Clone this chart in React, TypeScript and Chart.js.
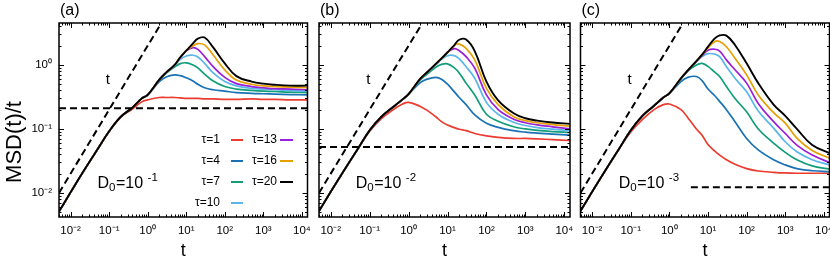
import React, { useEffect, useRef } from 'react';
import { Chart, registerables } from 'chart.js';

Chart.register(...registerables);

const FONT = '"Liberation Sans", Arial, Helvetica, sans-serif';

// time grid shared by all curves
const T = [0.005, 0.01, 0.02, 0.05, 0.1, 0.2, 0.4, 0.7, 1, 2, 3, 5, 7, 10, 15, 20, 30, 50, 100, 200, 500, 1000, 2000, 5000, 14000];

const TAU_LABELS = ['τ=1', 'τ=4', 'τ=7', 'τ=10', 'τ=13', 'τ=16', 'τ=20'];
const TAU_COLORS = ['#ec3b2f', '#1a72b5', '#119d78', '#5ab6e9', '#9a1fd6', '#e69f00', '#000000'];

// panel (a) D0 = 1e-1
const A_T1 = [0.0051, 0.0102, 0.0202, 0.048, 0.091, 0.152, 0.205, 0.265, 0.285, 0.31, 0.31, 0.31, 0.305, 0.3, 0.3, 0.3, 0.295, 0.295, 0.29, 0.29, 0.295, 0.29, 0.29, 0.285, 0.285];
const A_T4 = [0.0051, 0.0102, 0.0202, 0.048, 0.092, 0.155, 0.215, 0.3, 0.34, 0.55, 0.65, 0.7, 0.68, 0.63, 0.56, 0.5, 0.44, 0.41, 0.39, 0.37, 0.36, 0.355, 0.35, 0.345, 0.34];
const A_T7 = [0.0051, 0.0102, 0.0202, 0.048, 0.092, 0.155, 0.215, 0.3, 0.34, 0.58, 0.74, 0.93, 1.05, 1.08, 1.0, 0.9, 0.72, 0.56, 0.46, 0.42, 0.4, 0.39, 0.385, 0.375, 0.37];
const A_T10 = [0.0051, 0.0102, 0.0202, 0.048, 0.092, 0.155, 0.215, 0.3, 0.34, 0.59, 0.76, 0.98, 1.22, 1.38, 1.42, 1.33, 1.06, 0.75, 0.55, 0.47, 0.43, 0.42, 0.41, 0.4, 0.39];
const A_T13 = [0.0051, 0.0102, 0.0202, 0.048, 0.092, 0.155, 0.215, 0.3, 0.34, 0.59, 0.76, 1.0, 1.3, 1.66, 1.86, 1.75, 1.35, 0.94, 0.64, 0.51, 0.46, 0.44, 0.425, 0.42, 0.41];
const A_T16 = [0.0051, 0.0102, 0.0202, 0.048, 0.092, 0.155, 0.215, 0.3, 0.34, 0.59, 0.76, 1.0, 1.32, 1.67, 2.0, 2.16, 2.06, 1.43, 0.84, 0.58, 0.5, 0.47, 0.46, 0.45, 0.44];
const A_T20 = [0.0051, 0.0102, 0.0202, 0.048, 0.092, 0.155, 0.215, 0.3, 0.34, 0.59, 0.76, 1.0, 1.32, 1.67, 2.18, 2.58, 2.69, 1.88, 1.06, 0.67, 0.55, 0.51, 0.49, 0.475, 0.475];

// panel (b) D0 = 1e-2
const B_T1 = [0.0052, 0.0104, 0.0205, 0.049, 0.092, 0.145, 0.2, 0.245, 0.26, 0.225, 0.195, 0.155, 0.13, 0.115, 0.105, 0.099, 0.094, 0.085, 0.078, 0.074, 0.071, 0.071, 0.07, 0.068, 0.066];
const B_T4 = [0.0052, 0.0104, 0.0205, 0.049, 0.095, 0.155, 0.22, 0.29, 0.35, 0.53, 0.6, 0.64, 0.6, 0.5, 0.38, 0.31, 0.24, 0.166, 0.123, 0.106, 0.094, 0.089, 0.086, 0.083, 0.08];
const B_T7 = [0.0052, 0.0104, 0.0205, 0.049, 0.095, 0.155, 0.22, 0.29, 0.35, 0.58, 0.72, 0.92, 1.02, 1.04, 0.9, 0.75, 0.52, 0.34, 0.17, 0.132, 0.108, 0.1, 0.095, 0.091, 0.088];
const B_T10 = [0.0052, 0.0104, 0.0205, 0.049, 0.095, 0.155, 0.22, 0.29, 0.35, 0.6, 0.76, 1.0, 1.22, 1.4, 1.4, 1.25, 0.94, 0.62, 0.26, 0.17, 0.127, 0.113, 0.105, 0.099, 0.094];
const B_T13 = [0.0052, 0.0104, 0.0205, 0.049, 0.095, 0.155, 0.22, 0.29, 0.35, 0.61, 0.77, 1.03, 1.26, 1.58, 1.8, 1.67, 1.35, 0.89, 0.34, 0.2, 0.142, 0.125, 0.116, 0.108, 0.1];
const B_T16 = [0.0052, 0.0104, 0.0205, 0.049, 0.095, 0.155, 0.22, 0.29, 0.35, 0.61, 0.77, 1.04, 1.27, 1.55, 2.02, 2.12, 1.82, 1.2, 0.43, 0.24, 0.155, 0.135, 0.125, 0.117, 0.11];
const B_T20 = [0.0052, 0.0104, 0.0205, 0.049, 0.095, 0.155, 0.22, 0.29, 0.35, 0.61, 0.77, 1.04, 1.27, 1.57, 2.05, 2.48, 2.5, 1.65, 0.55, 0.28, 0.176, 0.147, 0.135, 0.126, 0.12];

// panel (c) D0 = 1e-3
const C_T1 = [0.0052, 0.0104, 0.0205, 0.049, 0.09, 0.14, 0.2, 0.24, 0.245, 0.2, 0.15, 0.1, 0.08, 0.057, 0.045, 0.039, 0.033, 0.028, 0.024, 0.022, 0.021, 0.0205, 0.0203, 0.0203, 0.0203];
const C_T4 = [0.0052, 0.0104, 0.0205, 0.049, 0.095, 0.16, 0.23, 0.31, 0.36, 0.55, 0.64, 0.66, 0.57, 0.42, 0.33, 0.27, 0.2, 0.13, 0.071, 0.047, 0.033, 0.0274, 0.024, 0.0222, 0.0215];
const C_T7 = [0.0052, 0.0104, 0.0205, 0.049, 0.095, 0.16, 0.23, 0.31, 0.36, 0.6, 0.8, 1.0, 1.06, 0.95, 0.77, 0.66, 0.46, 0.3, 0.185, 0.1, 0.06, 0.043, 0.033, 0.0264, 0.0235];
const C_T10 = [0.0052, 0.0104, 0.0205, 0.049, 0.095, 0.16, 0.23, 0.31, 0.36, 0.62, 0.82, 1.12, 1.35, 1.5, 1.48, 1.35, 0.94, 0.62, 0.38, 0.19, 0.103, 0.063, 0.044, 0.033, 0.0274];
const C_T13 = [0.0052, 0.0104, 0.0205, 0.049, 0.095, 0.16, 0.23, 0.31, 0.36, 0.62, 0.82, 1.14, 1.4, 1.7, 1.76, 1.65, 1.2, 0.84, 0.52, 0.25, 0.13, 0.085, 0.056, 0.039, 0.03];
const C_T16 = [0.0052, 0.0104, 0.0205, 0.049, 0.095, 0.16, 0.23, 0.31, 0.36, 0.62, 0.82, 1.15, 1.43, 1.85, 2.33, 2.33, 1.93, 1.27, 0.7, 0.34, 0.18, 0.123, 0.072, 0.046, 0.035];
const C_T20 = [0.0052, 0.0104, 0.0205, 0.049, 0.095, 0.16, 0.23, 0.31, 0.36, 0.62, 0.82, 1.15, 1.45, 1.93, 2.6, 2.9, 2.88, 2.05, 1.06, 0.52, 0.24, 0.16, 0.1, 0.056, 0.042];

// reference lines
const SLOPE_T = [0.005, 2];
const SLOPE_Y = [0.01, 4];
const A_FLAT_T = [0.005, 14000];
const A_FLAT_Y = [0.21, 0.21];
const B_FLAT_T = [0.005, 14000];
const B_FLAT_Y = [0.052, 0.052];
const C_FLAT_T = [3.6, 14000];
const C_FLAT_Y = [0.0123, 0.0123];

// ticks
const X_TICKS = [0.01, 0.1, 1, 10, 100, 1000, 10000];
const X_TICK_LABELS = ['10⁻²', '10⁻¹', '10⁰', '10¹', '10²', '10³', '10⁴'];
const Y_TICKS = [0.01, 0.1, 1];
const Y_TICK_LABELS = ['10⁻²', '10⁻¹', '10⁰'];

const PANELS = [
  { key: 'a', tag: '(a)', exp: '-1', left: 59, right: 307.5, yW: 59, yLabels: true, legend: true,
    curves: [A_T1, A_T4, A_T7, A_T10, A_T13, A_T16, A_T20], flatT: A_FLAT_T, flatY: A_FLAT_Y, d0: [0.05, 0.0118] },
  { key: 'b', tag: '(b)', exp: '-2', left: 319, right: 570, yW: 10, yLabels: false, legend: false,
    curves: [B_T1, B_T4, B_T7, B_T10, B_T13, B_T16, B_T20], flatT: B_FLAT_T, flatY: B_FLAT_Y, d0: [0.044, 0.0118] },
  { key: 'c', tag: '(c)', exp: '-3', left: 580.5, right: 829.5, yW: 10, yLabels: false, legend: false,
    curves: [C_T1, C_T4, C_T7, C_T10, C_T13, C_T16, C_T20], flatT: C_FLAT_T, flatY: C_FLAT_Y, d0: [0.049, 0.0118] },
];

const pts = (xs: number[], ys: number[]) => xs.map((x, i) => ({ x, y: ys[i] }));

function decorPlugin(p: any) {
  return {
    id: 'decor' + p.key,
    afterDatasetsDraw(chart: any) {
      const { ctx, chartArea: ca, scales } = chart;
      const xs = scales.x;
      const ys = scales.y;
      ctx.save();
      ctx.strokeStyle = '#000';
      ctx.fillStyle = '#000';
      // inner ticks
      ctx.lineWidth = 1;
      ctx.beginPath();
      for (let e = -3; e <= 4; e++) {
        for (let m = 1; m <= 9; m++) {
          const v = m * Math.pow(10, e);
          const len = m === 1 ? 5 : 2.5;
          if (v >= xs.min && v <= xs.max) {
            const px = Math.round(xs.getPixelForValue(v)) + 0.5;
            ctx.moveTo(px, ca.bottom); ctx.lineTo(px, ca.bottom - len);
            ctx.moveTo(px, ca.top); ctx.lineTo(px, ca.top + len);
          }
          if (v >= ys.min && v <= ys.max) {
            const py = Math.round(ys.getPixelForValue(v)) + 0.5;
            ctx.moveTo(ca.left, py); ctx.lineTo(ca.left + len, py);
            ctx.moveTo(ca.right, py); ctx.lineTo(ca.right - len, py);
          }
        }
      }
      ctx.stroke();
      // frame
      ctx.lineWidth = 1.5;
      ctx.strokeRect(ca.left, ca.top, ca.right - ca.left, ca.bottom - ca.top);

      // panel tag
      ctx.font = '16px ' + FONT;
      ctx.textAlign = 'left';
      ctx.textBaseline = 'top';
      ctx.fillText(p.tag, ca.left + 1, 3);

      // "t" annotation next to the slope line
      ctx.font = '15px ' + FONT;
      ctx.textAlign = 'center';
      ctx.textBaseline = 'middle';
      ctx.fillText('t', xs.getPixelForValue(0.093), ys.getPixelForValue(0.58));

      // D0 annotation
      ctx.textAlign = 'left';
      ctx.textBaseline = 'alphabetic';
      let cx = xs.getPixelForValue(p.d0[0]);
      const by = ys.getPixelForValue(p.d0[1]);
      ctx.font = '16px ' + FONT;
      ctx.fillText('D', cx, by); cx += ctx.measureText('D').width;
      ctx.font = '11.5px ' + FONT;
      ctx.fillText('0', cx, by + 3); cx += ctx.measureText('0').width + 0.5;
      ctx.font = '16px ' + FONT;
      ctx.fillText('=10', cx, by); cx += ctx.measureText('=10 ').width;
      ctx.font = '11.5px ' + FONT;
      ctx.fillText(p.exp, cx, by - 7.5);

      if (p.legend) {
        const sets = chart.data.datasets
          .filter((d: any) => TAU_LABELS.indexOf(d.label) >= 0)
          .sort((a: any, b: any) => TAU_LABELS.indexOf(a.label) - TAU_LABELS.indexOf(b.label));
        const rowsY = [140, 161, 182, 203];
        const textR = [220, 277];
        const lineX = [[231, 243], [280, 293]];
        ctx.font = '12px ' + FONT;
        ctx.textAlign = 'right';
        ctx.textBaseline = 'middle';
        sets.forEach((d: any, i: number) => {
          const col = i < 4 ? 0 : 1;
          const row = i < 4 ? i : i - 4;
          const y = rowsY[row];
          ctx.fillStyle = '#000';
          ctx.fillText(d.label, textR[col], y);
          ctx.strokeStyle = d.borderColor;
          ctx.lineWidth = 2;
          ctx.beginPath();
          ctx.moveTo(lineX[col][0], y);
          ctx.lineTo(lineX[col][1], y);
          ctx.stroke();
        });
        // y axis title
        ctx.save();
        ctx.fillStyle = '#000';
        ctx.translate(15, 142);
        ctx.rotate(-Math.PI / 2);
        ctx.font = '22px ' + FONT;
        ctx.textAlign = 'center';
        ctx.textBaseline = 'middle';
        ctx.fillText('MSD(t)/t', 0, 0);
        ctx.restore();
      }
      ctx.restore();
    },
  };
}

function makeConfig(p: any): any {
  const datasets: any[] = [
    { label: 'slope', data: pts(SLOPE_T, SLOPE_Y), borderColor: '#000', borderDash: [7, 4], borderWidth: 2, tension: 0 },
    { label: 'plateau', data: pts(p.flatT, p.flatY), borderColor: '#000', borderDash: [7, 4], borderWidth: 2, tension: 0 },
  ];
  for (let i = TAU_LABELS.length - 1; i >= 0; i--) {
    datasets.push({
      label: TAU_LABELS[i],
      data: pts(T, p.curves[i]),
      borderColor: TAU_COLORS[i],
      borderWidth: i === 6 ? 1.9 : 1.7,
      tension: 0.4,
    });
  }
  return {
    type: 'line',
    data: { datasets },
    options: {
      responsive: false,
      animation: false,
      devicePixelRatio: 1,
      events: [],
      layout: { padding: { left: p.left - p.yW, right: 830 - p.right, top: 23, bottom: 0 } },
      elements: { point: { radius: 0 }, line: { fill: false } },
      plugins: { legend: { display: false }, tooltip: { enabled: false }, title: { display: false } },
      scales: {
        x: {
          type: 'logarithmic',
          min: 0.005,
          max: 14000,
          afterBuildTicks: (s: any) => { s.ticks = X_TICKS.map((v) => ({ value: v })); },
          afterFit: (s: any) => { s.height = 48; s.paddingLeft = 0; s.paddingRight = 0; },
          ticks: {
            autoSkip: false, maxRotation: 0, minRotation: 0, padding: 7, color: '#000',
            font: { size: 11.5, family: FONT },
            callback: (_v: any, i: number) => X_TICK_LABELS[i],
          },
          grid: { display: false, drawTicks: false },
          border: { display: false },
          title: { display: true, text: 't', color: '#000', font: { size: 18, family: FONT }, padding: { top: 0, bottom: 3 } },
        },
        y: {
          type: 'logarithmic',
          min: 0.0042,
          max: 4.53,
          afterBuildTicks: (s: any) => { s.ticks = Y_TICKS.map((v) => ({ value: v })); },
          afterFit: (s: any) => { s.width = p.yW; s.paddingTop = 0; s.paddingBottom = 0; },
          ticks: {
            display: p.yLabels, padding: 7, color: '#000',
            font: { size: 11.5, family: FONT },
            callback: (_v: any, i: number) => Y_TICK_LABELS[i],
          },
          grid: { display: false, drawTicks: false },
          border: { display: false },
        },
      },
    },
    plugins: [decorPlugin(p)],
  };
}

function Panel({ p }: { p: any }) {
  const ref = useRef<HTMLCanvasElement>(null);
  useEffect(() => {
    const chart = new Chart(ref.current as HTMLCanvasElement, makeConfig(p));
    return () => chart.destroy();
  }, [p]);
  return (
    <canvas
      ref={ref}
      width={830}
      height={265}
      style={{ position: 'absolute', left: 0, top: 0, width: 830, height: 265 }}
    />
  );
}

export default function App() {
  return (
    <div style={{ position: 'fixed', left: 0, top: 0, width: 830, height: 265, background: '#fff', overflow: 'hidden' }}>
      {PANELS.map((p) => (
        <Panel key={p.key} p={p} />
      ))}
    </div>
  );
}
